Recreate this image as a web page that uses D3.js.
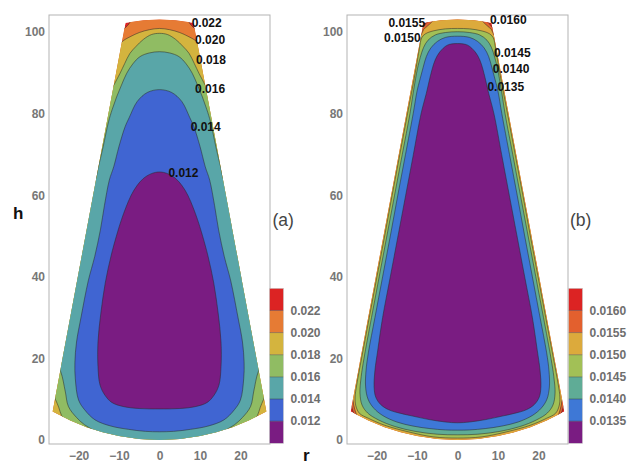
<!DOCTYPE html>
<html lang="en">
<head>
<meta charset="UTF-8">
<title>Contour plots (a) and (b)</title>
<script src="https://d3js.org/d3.v7.min.js"></script>
<style>
  body { margin: 0; background: #fff; }
  svg { display: block; font-family: "Liberation Sans", Arial, sans-serif; }
  .tick text { font-size: 12px; font-weight: bold; fill: #777; }
  .clabel { font-size: 12px; font-weight: bold; fill: #111; }
  .cblabel { font-size: 12px; font-weight: bold; fill: #6e6e6e; }
  .tag { font-size: 17.5px; fill: #444; }
  .axis-title { font-size: 17px; font-weight: bold; fill: #111; }
  .cline { fill: none; stroke: #2a2a2a; stroke-opacity: 0.75; stroke-width: 0.7px; }
</style>
</head>
<body>
<div id="my_dataviz"></div>
<script>

// outline of the section, right half (r >= 0), top centre -> bottom centre
var outlineHalf = [[0,103.1],[4,102.9],[8.4,102.3],[26.4,7.0],[22,4.75],[18,3.13],[14,1.87],[10,0.95],[5,0.23],[0,0]];

var xTicks = [-20, -10, 0, 10, 20];
var yTicks = [0, 20, 40, 60, 80, 100];

// ---- panel (a)
var levelsA = ["0.012", "0.014", "0.016", "0.018", "0.020", "0.022"];
var colorsA = ["#7a1c82", "#4065d2", "#59a6a8", "#90bc63", "#d4b43e", "#e67b34", "#dc2323"];

// contour of each level, right half from top centre to bottom centre (points outside the outline get clipped)
var contA012 = [[0,65.7],[2,65.3],[4,64.1],[5.6,62.3],[7,60],[8.3,57],[9.4,54],[10.5,50.5],[12,45],[13.4,38.5],[14.5,31],[15.2,24],[15.2,18],[14.7,13.5],[13.5,11],[11.8,9.2],[9,8.2],[5,7.7],[0,7.6]];
var contA014 = [[0,85.9],[3,85.2],[5.5,83],[7.5,79],[8.5,76.8],[10,72],[11.3,67],[12.4,63.7],[13.6,57.5],[14.6,51.5],[16,45],[17.6,39],[19.4,30],[20.5,24],[20.9,19],[20.8,15],[20,9.8],[18.5,7.4],[15.9,4.9],[12,3.4],[7.7,2.6],[3.5,2.1],[0,2.0]];
var contA016 = [[0,95.2],[2.5,94.9],[4.8,94],[6.6,92.2],[8.1,89.9],[9.4,87],[10.6,84.1],[11.7,81],[12.6,78],[13.9,72],[14.6,69],[15.1,67],[16.2,63],[30,45],[30,24],[26,19.5],[24.4,16.7],[23.3,12],[22.5,8.2],[20.5,5.5],[18.5,3.7],[16.7,2.6],[15,1.2],[8,-5],[0,-5]];
var contA018 = [[0,99.7],[2,99.4],[4,98.2],[5.8,96.5],[7.3,94.8],[8.6,92.3],[9.75,89.9],[10.6,88.3],[11.3,87],[13,85],[35,60],[35,15],[26.5,11.5],[25.7,9.9],[24.9,8.0],[24.2,6.0],[23.3,4.8],[10,-5],[0,-5]];
var contA020 = [[0,100.9],[2.5,100.6],[5,99.9],[7,99],[8.5,98.2],[9.3,97.6],[10.5,96.5],[40,60],[40,-10],[0,-10]];
var contA022 = [[0,115],[6.5,115],[7.0,104],[7.3,102.45],[7.9,101.6],[8.7,100.9],[10,100],[40,60],[40,-10],[0,-10]];

// label: text, r, h, anchor
var labelsA = [["0.022",7.95,102.3,"start"],["0.020",8.8,98.0,"start"],["0.018",9.0,93.3,"start"],
               ["0.016",8.8,86.2,"start"],["0.014",7.7,76.8,"start"],["0.012",2.2,65.5,"start"]];

// ---- panel (b)
var levelsB = ["0.0135", "0.0140", "0.0145", "0.0150", "0.0155", "0.0160"];
var colorsB = ["#7a1c82", "#3e78d6", "#5fac96", "#a2c056", "#dcaa3c", "#e3602e", "#dc2323"];

var contB0135 = [[0,97.2],[2.5,96.8],[4.4,95.1],[5.5,93.2],[6.3,90.8],[7.0,88],[7.7,85],[9.0,80],[10.9,70],[12.8,60],[14.7,50],[16.6,40],[18.5,30],[19.7,22],[20.4,17],[20.6,13],[20.2,10.5],[19,8.7],[17,7.4],[14,6.5],[11.3,5.9],[7,5.0],[3,4.4],[0,4.2]];
var contB0140 = [[0,99],[3,98.7],[5,97.7],[6.6,96.1],[7.7,94],[8.5,91.3],[9.3,88.3],[10,85.5],[10.95,80],[12.85,70],[14.75,60],[16.6,50],[18.5,40],[20.4,30],[22.0,21.5],[22.6,17],[22.7,13],[22.1,10],[20.7,7.8],[18.5,6.0],[15,4.4],[11,3.4],[7,2.8],[3,2.45],[0,2.4]];
var contB0145 = [[0,100.1],[3,99.9],[5.5,99.3],[7.3,98],[8.4,96.2],[9.2,93.8],[9.9,91],[10.8,86],[11.75,80],[13.65,70],[15.55,60],[17.45,50],[19.35,40],[21.25,30],[23.1,20],[23.8,15.5],[24.1,11.5],[23.6,8.6],[22.2,6.6],[19.5,4.9],[15.5,3.3],[10.5,2.1],[5,1.4],[0,1.25]];
var contB0150 = [[0,100.9],[3,100.8],[6,100.3],[7.9,99.6],[8.85,98.6],[9.4,96],[10.45,90],[12.35,80],[14.25,70],[16.15,60],[18.0,50],[19.9,40],[21.8,30],[23.7,20],[24.9,13.5],[25.3,10.5],[25.1,8.3],[24.2,6.5],[22,5.3],[18,3.6],[12,1.95],[6,0.75],[0,0.45]];
var contB0155 = [[0,115],[5.5,115],[5.9,104],[6.2,102.7],[7.3,101.6],[8.4,100.6],[9.0,99.3],[10.5,98],[40,60],[40,16],[27.5,12],[26.0,10.2],[25.6,8.4],[25.1,6.6],[24.3,5.2],[15,-5],[0,-5]];
var contB0160 = [[0,115],[6.8,115],[7.2,104],[7.5,102.45],[8.1,101.8],[8.65,101.1],[10,100],[40,60],[40,16],[27.5,11],[26.3,8.6],[26.0,7.6],[25.7,6.7],[25,5.8],[15,-5],[0,-5]];

var labelsB = [["0.0155",-8.0,102.3,"end"],["0.0150",-9.1,98.6,"end"],["0.0160",8.0,103.1,"start"],
               ["0.0145",9.0,95.0,"start"],["0.0140",8.7,90.9,"start"],["0.0135",7.4,86.6,"start"]];

// ---- layout
var W = 627, H = 466;
var y = d3.scaleLinear().domain([-1, 104.2]).range([444, 15]);
var xA = d3.scaleLinear().domain([-27.3, 27.3]).range([49, 270]);
var xB = d3.scaleLinear().domain([-27.3, 27.3]).range([347, 568]);

var svg = d3.select("#my_dataviz").append("svg")
    .attr("width", W)
    .attr("height", H);

svg.append("rect").attr("width", W).attr("height", H).attr("fill", "#fff");

// full closed ring from a right half
function mirror(half) {
  var left = half.slice(1, -1).reverse().map(function(p) { return [-p[0], p[1]]; });
  return half.concat(left);
}

function drawPanel(id, x, levels, colors, conts, labels, cbLeft, tag, tagX) {
  var g = svg.append("g");

  var smooth = d3.line()
      .x(function(d) { return x(d[0]); })
      .y(function(d) { return y(d[1]); })
      .curve(d3.curveCatmullRomClosed.alpha(0.5));
  var straight = d3.line()
      .x(function(d) { return x(d[0]); })
      .y(function(d) { return y(d[1]); })
      .curve(d3.curveLinearClosed);

  // frame
  g.append("rect")
      .attr("x", x.range()[0]).attr("y", y.range()[1])
      .attr("width", x.range()[1] - x.range()[0])
      .attr("height", y.range()[0] - y.range()[1])
      .attr("fill", "none")
      .attr("stroke", "#b3b3b3")
      .attr("stroke-width", 1);

  svg.append("clipPath").attr("id", "clip" + id)
    .append("path").attr("d", straight(mirror(outlineHalf)));

  var body = g.append("g").attr("clip-path", "url(#clip" + id + ")");

  // highest band fills the whole section, then each lower level on top
  body.append("path")
      .attr("d", straight(mirror(outlineHalf)))
      .attr("fill", colors[colors.length - 1]);

  for (var i = conts.length - 1; i >= 0; i--) {
    body.append("path")
        .attr("d", smooth(mirror(conts[i])))
        .attr("fill", colors[i]);
  }
  for (var i = conts.length - 1; i >= 0; i--) {
    body.append("path")
        .attr("class", "cline")
        .attr("d", smooth(mirror(conts[i])));
  }

  // axes
  g.append("g")
      .attr("transform", "translate(0," + y.range()[0] + ")")
      .call(d3.axisBottom(x).tickValues(xTicks).tickSize(0).tickPadding(7))
      .call(function(a) { a.select(".domain").remove(); });
  g.append("g")
      .attr("transform", "translate(" + x.range()[0] + ",0)")
      .call(d3.axisLeft(y).tickValues(yTicks).tickSize(0).tickPadding(4))
      .call(function(a) { a.select(".domain").remove(); });
  g.selectAll(".tick text").attr("font-family", null).attr("font-size", null);

  // contour labels
  g.selectAll(".clabel")
    .data(labels)
    .enter()
    .append("text")
      .attr("class", "clabel")
      .attr("x", function(d) { return x(d[1]); })
      .attr("y", function(d) { return y(d[2]); })
      .attr("dy", "0.35em")
      .attr("text-anchor", function(d) { return d[3]; })
      .text(function(d) { return d[0]; });

  // colour bar
  var cb = d3.scaleLinear().domain([0, colors.length]).range([443.3, 288.3]);
  g.selectAll(".band")
    .data(colors)
    .enter()
    .append("rect")
      .attr("x", cbLeft)
      .attr("y", function(d, i) { return cb(i + 1); })
      .attr("width", 14)
      .attr("height", function(d, i) { return cb(i) - cb(i + 1); })
      .attr("fill", function(d) { return d; });
  g.selectAll(".sep")
    .data(levels)
    .enter()
    .append("line")
      .attr("x1", cbLeft).attr("x2", cbLeft + 14)
      .attr("y1", function(d, i) { return cb(i + 1); })
      .attr("y2", function(d, i) { return cb(i + 1); })
      .attr("stroke", "#333").attr("stroke-opacity", 0.6).attr("stroke-width", 0.7);
  g.append("rect")
      .attr("x", cbLeft).attr("y", cb(colors.length))
      .attr("width", 14).attr("height", cb(0) - cb(colors.length))
      .attr("fill", "none").attr("stroke", "#c8c8c8").attr("stroke-width", 0.6);
  g.selectAll(".cblabel")
    .data(levels)
    .enter()
    .append("text")
      .attr("class", "cblabel")
      .attr("x", cbLeft + 21)
      .attr("y", function(d, i) { return cb(i + 1); })
      .attr("dy", "0.35em")
      .text(function(d) { return d; });

  g.append("text")
      .attr("class", "tag")
      .attr("x", tagX)
      .attr("y", 226)
      .text(tag);
}

drawPanel("a", xA, levelsA, colorsA, [contA012, contA014, contA016, contA018, contA020, contA022], labelsA, 269.5, "(a)", 272.5);
drawPanel("b", xB, levelsB, colorsB, [contB0135, contB0140, contB0145, contB0150, contB0155, contB0160], labelsB, 568.5, "(b)", 570);

svg.append("text").attr("class", "axis-title").attr("x", 303).attr("y", 461).attr("font-size", 16).text("r");
svg.append("text").attr("class", "axis-title").attr("x", 13).attr("y", 219).text("h");

</script>
</body>
</html>
